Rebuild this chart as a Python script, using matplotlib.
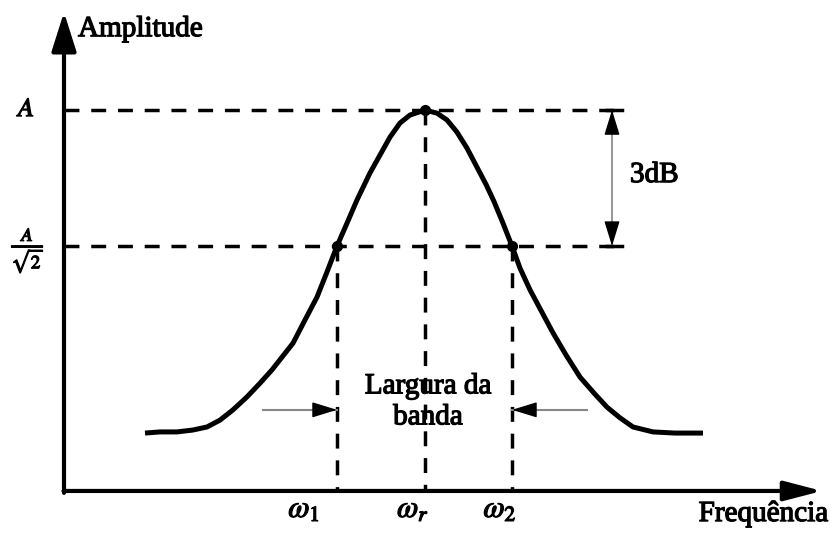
import matplotlib
matplotlib.use("Agg")
import matplotlib.pyplot as plt
import matplotlib.patheffects as pe

plt.rcParams["font.family"] = ["Liberation Serif", "DejaVu Serif"]
plt.rcParams["mathtext.fontset"] = "stix"

# resonance curve (frequency, amplitude with A = 1)
freq = [0.81, 0.96, 1.13, 1.29, 1.43, 1.56, 1.69, 1.83, 1.96, 2.08, 2.29,
        2.41, 2.53, 2.63, 2.73, 2.83, 2.93, 3.06, 3.16, 3.26, 3.36, 3.46,
        3.61, 3.73, 3.83, 3.93, 4.03, 4.13, 4.22, 4.30, 4.39, 4.48, 4.56,
        4.66, 4.89, 5.02, 5.16, 5.30, 5.43, 5.56, 5.69, 5.89, 6.11, 6.39]
amp = [0.152, 0.155, 0.155, 0.160, 0.168, 0.186, 0.213, 0.247, 0.283, 0.318,
       0.388, 0.449, 0.509, 0.575, 0.643, 0.703, 0.764, 0.835, 0.882, 0.929,
       0.966, 0.987, 1.000, 0.992, 0.974, 0.942, 0.900, 0.850, 0.805, 0.760,
       0.703, 0.643, 0.585, 0.528, 0.415, 0.357, 0.299, 0.257, 0.220, 0.192,
       0.168, 0.155, 0.152, 0.152]

omega_1 = 2.73
omega_r = 3.61
omega_2 = 4.48
amp_peak = 1.0
amp_half = 0.643

x_tip = 7.58
y_tip = 1.257
dash_end = 5.59
db_x = 5.48
band_y = 0.213
band_left = 1.99
band_right = 5.23

fig = plt.figure(figsize=(8.31, 5.34), dpi=100)
ax = fig.add_axes([0, 0, 1, 1])
ax.set_xlim(-0.64, 7.67)
ax.set_ylim(-0.113, 1.289)
ax.axis("off")

# axes with arrow heads
ax.annotate("", xy=(0, y_tip), xytext=(0, -0.005),
            arrowprops=dict(arrowstyle="-|>,head_length=1.2,head_width=0.38",
                            lw=3, color="black", shrinkA=0, shrinkB=0,
                            mutation_scale=20))
ax.annotate("", xy=(x_tip, 0), xytext=(-0.005, 0),
            arrowprops=dict(arrowstyle="-|>,head_length=1.15,head_width=0.3",
                            lw=3, color="black", shrinkA=0, shrinkB=0,
                            mutation_scale=20))

dash = (0, (4.3, 3.4))
ax.plot([0, dash_end], [amp_peak, amp_peak], color="black", lw=2.5, ls=dash)
ax.plot([0, dash_end], [amp_half, amp_half], color="black", lw=2.5, ls=dash)
for w, top in [(omega_1, amp_half), (omega_r, amp_peak), (omega_2, amp_half)]:
    ax.plot([w, w], [top, 0], color="black", lw=2.5, ls=dash)

ax.plot(freq, amp, color="black", lw=3.6, solid_capstyle="butt",
        solid_joinstyle="round")
ax.plot([omega_1, omega_r, omega_2], [amp_half, amp_peak, amp_half], "o",
        color="black", ms=7)

head = dict(arrowstyle="-|>,head_length=1.3,head_width=0.4", color="black",
            lw=1, shrinkA=0, shrinkB=0, mutation_scale=12)

# 3dB double arrow: grey shaft, black heads
ax.plot([db_x, db_x], [amp_half, amp_peak], color="#999999", lw=1.5)
ax.annotate("", xy=(db_x, amp_peak), xytext=(db_x, amp_peak - 0.04),
            arrowprops=head)
ax.annotate("", xy=(db_x, amp_half), xytext=(db_x, amp_half + 0.04),
            arrowprops=head)
ax.plot([db_x - 0.05, db_x + 0.1], [amp_peak, amp_peak], color="black", lw=2.5)
ax.plot([db_x - 0.05, db_x + 0.1], [amp_half, amp_half], color="black", lw=2.5)

# bandwidth arrows
for start, end, sgn in [(band_left, omega_1, 1), (band_right, omega_2, -1)]:
    ax.plot([start, end], [band_y, band_y], color="#888888", lw=1.5)
    ax.annotate("", xy=(end, band_y), xytext=(end - sgn * 0.15, band_y),
                arrowprops=head)

bold = [pe.withStroke(linewidth=0.9, foreground="black")]
fs = 21
ax.text(0.14, 1.194, "Amplitude", fontsize=fs, ha="left", va="baseline",
        path_effects=bold)
ax.text(7.64, -0.079, "Frequência", fontsize=fs, ha="right", va="baseline",
        path_effects=bold)
ax.text(5.66, 0.811, "3dB", fontsize=fs, ha="left", va="baseline",
        path_effects=bold)
ax.text(3.64, 0.234, "Largura da\nbanda", fontsize=fs, ha="center",
        va="center", linespacing=1.25, path_effects=bold)
ax.text(-0.37, 1.0, r"$\mathbf{\mathit{A}}$", fontsize=19, ha="center",
        va="center", path_effects=bold)
ax.text(-0.36, 0.63, r"$\frac{A}{\sqrt{2}}$", fontsize=19, ha="center",
        va="center", path_effects=bold)
for label, xpos in [(r"$\omega_1$", 2.40), (r"$\omega_r$", 3.49),
                    (r"$\omega_2$", 4.36)]:
    ax.text(xpos, -0.068, label, fontsize=22, ha="center", va="baseline",
            path_effects=bold)

fig.savefig("out.png", dpi=100)
